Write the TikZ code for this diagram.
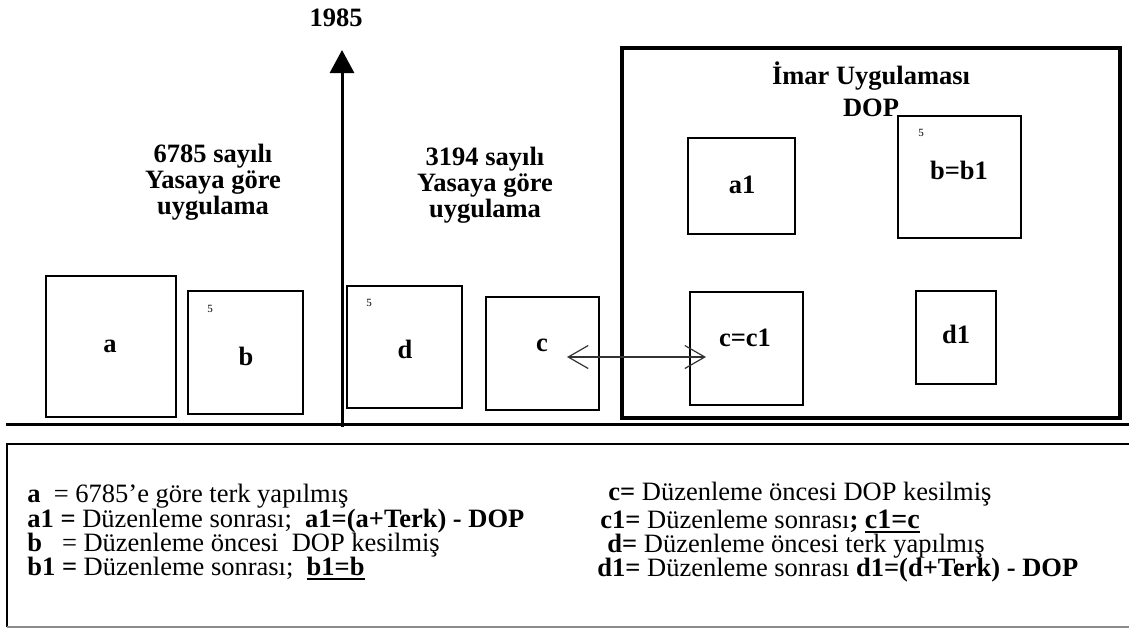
\documentclass[tikz,border=0pt]{standalone}
\usepackage{fontspec}
\setmainfont{Liberation Serif}
\usetikzlibrary{arrows.meta,fit}
\newcommand{\ulthick}[1]{\setbox0\hbox{#1}\leavevmode\vtop{\copy0\kern1.4pt\hrule height 1pt width \wd0}}
\begin{document}
\begin{tikzpicture}[x=0.5pt,y=-0.5pt,
  lbl/.style={font=\fontsize{13.25}{15}\selectfont\bfseries, inner sep=0, anchor=base},
  legtxt/.style={font=\fontsize{13.25}{15}\selectfont, inner sep=0, anchor=base west},
  smallfive/.style={font=\fontsize{5.5}{6}\selectfont, inner sep=0},
  plot/.style={draw, line width=1pt, inner sep=0},
  bigbox/.style={draw, line width=2pt, inner sep=0},
  heavy/.style={line width=1.5pt},
  twoway/.style={line width=0.6pt, draw=black!80, {Straight Barb[length=10pt,width=11.5pt]}-{Straight Barb[length=10pt,width=11.5pt]}}
]
\useasboundingbox (0,0) rectangle (1129,629);

% ground line and 1985 axis
\coordinate (gL) at (6,424);
\coordinate (gR) at (1129,424);
\draw[heavy] (gL) -- (gR);
\coordinate (axB) at (342,427);
\coordinate (axT) at (342,50);
\draw[heavy, -{Triangle[length=11.5pt,width=12pt]}] (axB) -- (axT);
\node[lbl] (year) at (336,26) {1985};

% headings
\node[lbl] (h1a) at (213,162) {6785 sayılı};
\node[lbl] (h1b) at (213,188) {Yasaya göre};
\node[lbl] (h1c) at (213,214) {uygulama};
\node[lbl] (h2a) at (485,165) {3194 sayılı};
\node[lbl] (h2b) at (485,191) {Yasaya göre};
\node[lbl] (h2c) at (485,217) {uygulama};

% big DOP box
\node[bigbox, fit={(622,48) (1120,418)}] (dop) {};
\node[lbl] (imar) at (871,84) {İmar Uygulaması};
\node[lbl] (dopt) at (871,116) {DOP};

% parcels before
\node[plot, fit={(46,276) (176,417)}] (pa) {};
\node[lbl] (la) at (110,352) {a};
\node[plot, fit={(188,291) (303,414)}] (pb) {};
\node[lbl] (lb) at (246,365) {b};
\node[smallfive] (fb) at (210,309) {5};
\node[plot, fit={(347,286) (462,408)}] (pd) {};
\node[lbl] (ld) at (405,358) {d};
\node[smallfive] (fd) at (369,303) {5};
\node[plot, fit={(486,297) (599,410)}] (pc) {};
\node[lbl] (lc) at (542,351) {c};

% parcels after
\node[plot, fit={(688,138) (795,234)}] (pa1) {};
\node[lbl] (la1) at (742,193) {a1};
\node[plot, fit={(898,116) (1021,238)}] (pb1) {};
\node[lbl] (lb1) at (959,179) {b=b1};
\node[smallfive] (fb1) at (921,133) {5};
\node[plot, fit={(690,292) (803,405)}] (pc1) {};
\node[lbl] (lc1) at (745,346) {c=c1};
\node[plot, fit={(916,291) (996,384)}] (pd1) {};
\node[lbl] (ld1) at (956,343) {d1};

% c <-> c1
\coordinate (cL) at (567,357);
\coordinate (cR) at (706,357);
\draw[twoway] (cL) -- (cR);

% legend frame
\coordinate (fTR) at (1129,444);
\coordinate (fTL) at (7,444);
\coordinate (fBL) at (7,627);
\coordinate (fBR) at (1129,627);
\draw[line width=1pt] (fTR) -- (fTL) -- (fBL);
\draw[line width=0.8pt, black!45] (fBL) -- (fBR);

% legend text
\node[legtxt] (t1) at (27,502) {\textbf{a}\ \ = 6785’e göre terk yapılmış};
\node[legtxt] (t2) at (27,527) {\textbf{a1 =} Düzenleme sonrası;\ \ \textbf{a1=(a+Terk) - DOP}};
\node[legtxt] (t3) at (27,551) {\textbf{b}\ \ \ = Düzenleme öncesi\ \ DOP kesilmiş};
\node[legtxt] (t4) at (27,575) {\textbf{b1 =} Düzenleme sonrası;\ \ \ulthick{\textbf{b1=b}}};
\node[legtxt] (t5) at (608,500) {\textbf{c=} Düzenleme öncesi DOP kesilmiş};
\node[legtxt] (t6) at (600,528) {\textbf{c1=} Düzenleme sonrası\textbf{;} \ulthick{\fontsize{14}{16}\selectfont\bfseries c1=c}};
\node[legtxt] (t7) at (607,552) {\textbf{d=} Düzenleme öncesi terk yapılmış};
\node[legtxt] (t8) at (597,576) {\textbf{d1=} Düzenleme sonrası \textbf{d1=(d+Terk) - DOP}};
\end{tikzpicture}
\end{document}
